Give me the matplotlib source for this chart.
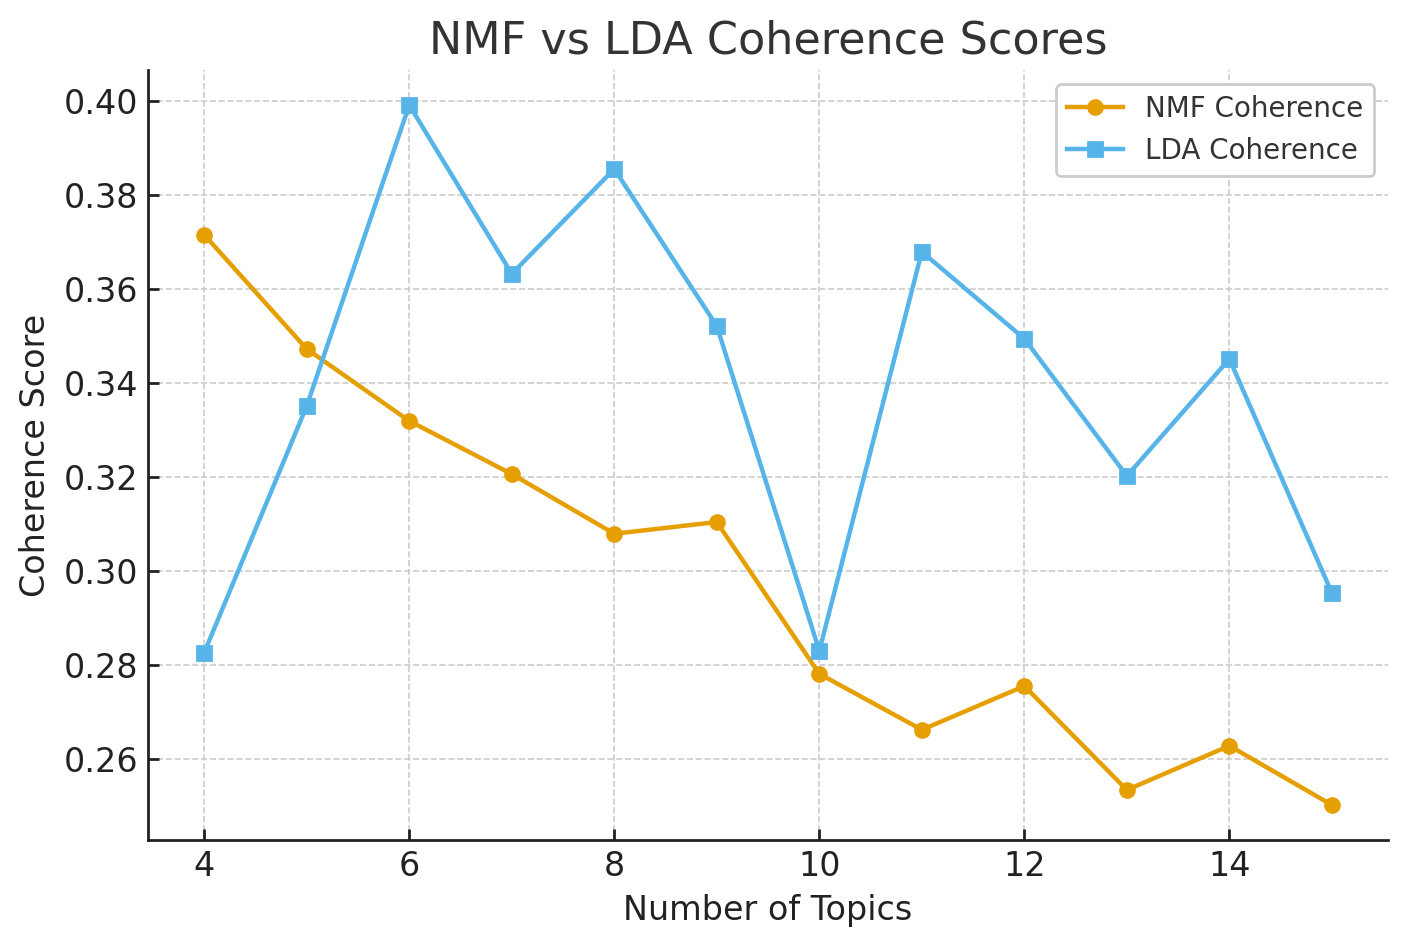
import matplotlib
matplotlib.use("Agg")
import matplotlib.pyplot as plt

topics = [4, 5, 6, 7, 8, 9, 10, 11, 12, 13, 14, 15]
nmf_coherence = [0.3715, 0.3472, 0.3319, 0.3206, 0.3079, 0.3104, 0.2781, 0.2662, 0.2755, 0.2534, 0.2628, 0.2502]
lda_coherence = [0.2826, 0.3351, 0.3991, 0.3632, 0.3855, 0.3521, 0.2830, 0.3679, 0.3494, 0.3202, 0.3451, 0.2953]

fig = plt.figure(figsize=(7.04, 4.735), dpi=200)
ax = fig.add_axes([0.105, 0.113, 0.881, 0.813])

ax.plot(topics, nmf_coherence, marker='o', color='#E69F00', linewidth=1.6, markersize=5, label='NMF Coherence')
ax.plot(topics, lda_coherence, marker='s', color='#56B4E9', linewidth=1.6, markersize=5, label='LDA Coherence')

ax.set_title('NMF vs LDA Coherence Scores', fontsize=16, color='#333333')
ax.set_xlabel('Number of Topics', fontsize=12, color='#222222')
ax.set_ylabel('Coherence Score', fontsize=12, color='#222222')
ax.tick_params(direction='in', labelsize=12, colors='#222222', length=4, width=1)
ax.grid(True, linestyle='--', color='#cccccc', linewidth=0.6)
ax.set_axisbelow(True)
for s in ['top', 'right']:
    ax.spines[s].set_visible(False)
for s in ['left', 'bottom']:
    ax.spines[s].set_linewidth(1.0)
    ax.spines[s].set_color('#222222')

leg = ax.legend(fontsize=10, loc='upper right', framealpha=1, edgecolor='#cccccc')
for t in leg.get_texts():
    t.set_color('#333333')

fig.savefig('out.png', dpi=200)
